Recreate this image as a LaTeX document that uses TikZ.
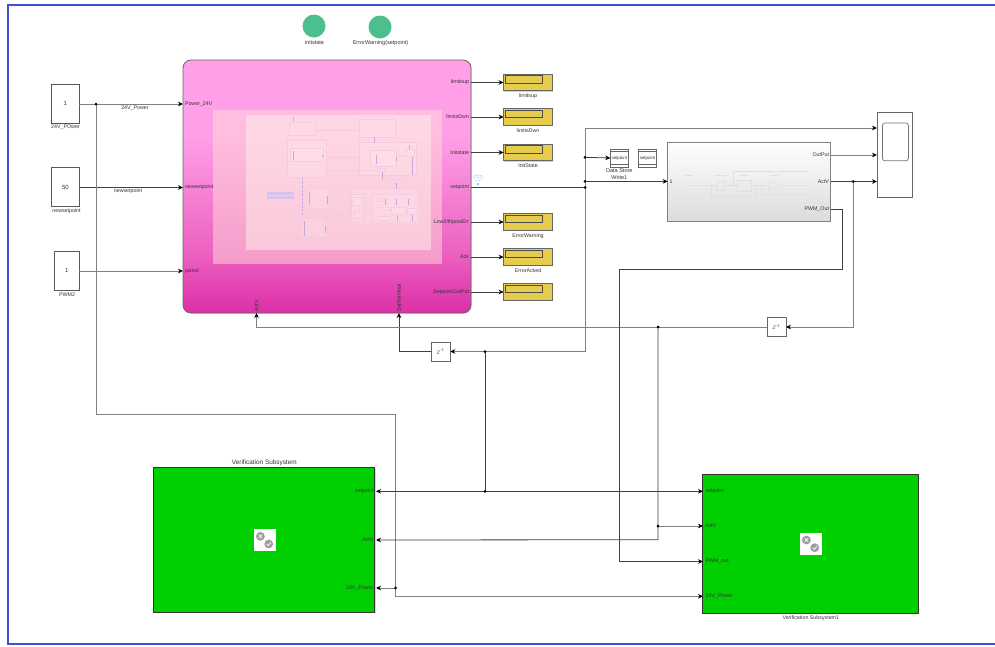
\documentclass[tikz,border=0pt]{standalone}
\usepackage{fontspec}
\setmainfont{Liberation Sans}
\usepackage{xcolor}
\usetikzlibrary{
  arrows.meta,
  positioning,
  shadows,
}
\definecolor{framecol}{HTML}{3F4FD6}
\definecolor{dispcol}{HTML}{E6CC4E}
\definecolor{greenblk}{HTML}{00D000}
\definecolor{lampcol}{HTML}{4DBF8F}
\definecolor{faintline}{HTML}{F6CCDC}
\definecolor{faintmark}{HTML}{C8A8E0}
\definecolor{pinklo}{HTML}{DC2FA8}
\definecolor{pinkmid}{HTML}{EC62C0}
\definecolor{pinkhi}{HTML}{FF9FE8}
\definecolor{panelA}{HTML}{FFDCD8}
\definecolor{panelB}{HTML}{FFF0E8}
\pgfdeclareverticalshading{pinkfade}{100bp}{
  color(0bp)=(pinklo); color(25bp)=(pinklo); color(37bp)=(pinkmid);
  color(60bp)=(pinkhi); color(100bp)=(pinkhi)}
\newcommand{\lblsize}{\fontsize{5.3}{6.3}\selectfont}

\begin{document}
\begin{tikzpicture}[
  x=1pt, y=-1pt,
  font=\lblsize,
  every node/.style={align=center, inner sep=0pt, outer sep=0pt, text=black!80},
  sigline/.style={-{Stealth[length=5pt,width=4.6pt,black]}, black!75, line width=0.8pt},
  sigplain/.style={black!75, line width=0.8pt},
  siggray/.style={-{Stealth[length=5pt,width=4.6pt,black]}, black!50, line width=1pt},
  sigdot/.style={circle, fill=black, minimum size=3pt},
  constblock/.style={draw=black!65, fill=white, line width=0.7pt, minimum width=27.3pt,
    font=\fontsize{6}{7}\selectfont,
    drop shadow={shadow xshift=.7pt, shadow yshift=-.7pt, opacity=.35}},
  dispblock/.style={draw=black!60, fill=dispcol, line width=0.8pt, minimum width=48.8pt, minimum height=16.7pt,
    drop shadow={shadow xshift=.7pt, shadow yshift=-.7pt, opacity=.35}},
  delayblock/.style={draw=black!60, fill=white, line width=0.6pt, minimum width=19pt, minimum height=19pt,
    font=\fontsize{6.5}{7}\selectfont, text=black!60,
    drop shadow={shadow xshift=.7pt, shadow yshift=-.7pt, opacity=.35}},
  storeblock/.style={draw=black!60, fill=white, line width=0.9pt, minimum width=18pt, minimum height=18pt,
    font=\fontsize{4.4}{5}\selectfont},
  verifblock/.style={draw=black!80, fill=greenblk, line width=1pt,
    drop shadow={shadow xshift=.6pt, shadow yshift=-.6pt, opacity=.3}},
  lamp/.style={circle, fill=lampcol, minimum size=23pt},
  faintbox/.style={draw=faintline, fill=white, fill opacity=.12, line width=0.5pt},
]
\useasboundingbox (0,0) rectangle (995,646);
\fill[white] (0,0) rectangle (995,646);

%% Frame
\draw[framecol, line width=2.2pt] (995,5) -- (8,5) -- (8,644) -- (995,644);

%% Lamps
\node[lamp] (lampInit) at (314,26) {};
\node[lamp] (lampErr) at (380,27) {};
\node[font=\fontsize{5.5}{6}\selectfont] (lblInit) at (314.5,43) {initstate};
\node[font=\fontsize{5.5}{6}\selectfont] (lblErr) at (380.5,43) {ErrorWarning(setpoint)};

%% Controller block
\node[draw=black!60, line width=0.8pt, rounded corners=8pt, shading=pinkfade, minimum width=288pt, minimum height=253pt,
  drop shadow={shadow xshift=.6pt, shadow yshift=-.6pt, opacity=.35}] (ctrl) at (327,186.5) {};
\fill[panelA, opacity=.5] (213,110) rectangle (442,264);
\fill[panelB, opacity=.5] (245.5,115) rectangle (431,250);

%% Faint content of the controller
\foreach \xa/\ya/\xb/\yb in {
  289.7/122.7/315.3/135.7, 359.7/119.3/395.3/137.3, 287.3/140.7/326/177.7,
  290.7/148.7/323.3/161, 359.7/142.7/416.3/175.3, 370.7/150.3/396.7/166,
  406.3/149.3/414.3/156.3, 377.7/168/384.7/171.7, 306.3/188.7/329.3/208.3,
  301/218.3/326.7/237.3, 350/188.7/420.3/225, 351.3/194.3/364.7/222.3,
  353.7/197.7/362.7/205.7, 354.3/211/362.7/218.7, 372.7/194.3/418.3/222.3,
  377/198/382/201, 381/207/389/210, 391/207/405/214, 407/208/416/214, 378/216/389/220}
  \draw[faintbox] (\xa,\ya) rectangle (\xb,\yb);
\foreach \xa/\ya/\xb/\yb in {
  315.3/130/359.7/130, 326/157/359.7/157, 326/170/377.7/170, 396.7/155/406.3/155,
  329.3/213.7/350/213.7, 302.7/213.7/350/213.7, 378/179/411/179}
  \draw[faintline, line width=0.4pt] (\xa,\ya) -- (\xb,\yb);
\foreach \xa/\ya/\xb/\yb in {
  293.3/116.7/293.3/121, 293.3/151/293.3/160, 322.5/155/322.5/157, 376.7/155/376.7/164,
  396/157/396/161, 374/137.3/374/142.7, 409/145/409/149, 412/157/412/175, 382/172/382/179,
  396.5/183/396.5/188.7, 309/192/309/205, 327/196/327/204, 304/221/304/236, 325/226/325/233,
  385/199/385/205, 396.5/199/396.5/205, 408/199/408/205, 397/215/397/221, 412/215/412/221}
  \draw[faintmark, line width=0.5pt] (\xa,\ya) -- (\xb,\yb);
\draw[faintmark, line width=0.6pt, densely dotted] (302.7,178.3) -- (302.7,213.7);
\fill[faintmark!70!white] (267.3,192.3) rectangle (293.7,194.7);
\fill[faintmark!70!white] (267.3,196.3) rectangle (293.7,198.7);

%% Controller ports
\foreach \nm/\yy/\txt in {Power/104/Power\_24V, Set/187.5/newsetpoint, Pwm/271/pwm2}{
  \coordinate (in\nm) at (183,\yy);
  \node[right=2pt of in\nm] (lblIn\nm) {\txt};
}
\foreach \nm/\yy/\txt in {Up/82.5/limitsup, Dwn/117/limitsDwn, Init/152.5/Initstate, Sp/187.5/setpoint,
  Low/222/Low24hpowErr, Ack/257/Ack, Out/292/SetpointOutPut}{
  \coordinate (out\nm) at (471,\yy);
  \node[left=2pt of out\nm] (lblOut\nm) {\txt};
}
\coordinate (inAct) at (256.5,313);
\coordinate (inVal) at (399,313);
\node[rotate=90, anchor=west] (lblAct) at (256.5,311.5) {ActV};
\node[rotate=90, anchor=west] (lblVal) at (399,311.5) {SetPointVal};

%% Wifi mark
\fill[blue!45!cyan!60!white] (478,184) circle (1.2pt);
\draw[blue!45!cyan!35!white, line width=0.6pt] (475,181) .. controls (477,179.5) and (479,179.5) .. (481,181);
\draw[blue!45!cyan!35!white, line width=0.6pt] (473.5,178.5) .. controls (476.5,176.5) and (479.5,176.5) .. (482.5,178.5);
\draw[blue!45!cyan!35!white, line width=0.6pt] (473,176.5) .. controls (476,174.5) and (480,174.5) .. (483,176.5);

%% Sources
\node[constblock, minimum height=39pt] (srcPower) at (65.4,103.8) {1};
\node[constblock, minimum height=39pt] (srcSet) at (65.4,187.2) {50};
\node[constblock, minimum width=24.7pt, minimum height=39pt] (srcPwm) at (66.7,270.7) {1};
\node (lblSrcPower) at (65.5,127.5) {24V\_POwer};
\node (lblSrcSet) at (66.5,211) {newsetpoint};
\node (lblSrcPwm) at (67,294.5) {PWM2};
\node (lblWirePower) at (135,108) {24V\_Power};
\node (lblWireSet) at (128,191.5) {newsetpoint};

%% Displays
\foreach \nm/\yy/\txt in {Up/82.5/limitsup, Dwn/117/limitsDwn, Init/152.5/InitState,
  Low/222/ErrorWarning, Ack/257/ErrorAcked, Out/292/{}}{
  \node[dispblock] (disp\nm) at (528,\yy) {};
  \draw[black!70, line width=0.9pt] (505.5,\yy-6.8) rectangle (542.5,\yy+0.8);
  \node[below=3pt of disp\nm] (lblDisp\nm) {\txt};
}
\foreach \nm in {Up,Dwn,Init,Low,Ack,Out}
  \draw[sigline] (out\nm) -- (disp\nm.west);

%% Data stores
\node[storeblock] (storeWrite) at (619.3,158) {setpoint};
\node[storeblock] (storeRead) at (647.5,158) {setpoint};
\foreach \nm in {storeWrite,storeRead}{
  \draw[black!60, line width=0.9pt] ([yshift=-2.2pt]\nm.north west) -- ([yshift=-2.2pt]\nm.north east);
  \draw[black!60, line width=0.9pt] ([yshift=2.2pt]\nm.south west) -- ([yshift=2.2pt]\nm.south east);
}
\node[font=\fontsize{5.5}{6.4}\selectfont, below=2pt of storeWrite] (lblStore) {Data Store\\Write1};

%% Plant block
\node[draw=black!50, line width=1pt, top color=white, bottom color=black!14, minimum width=163pt, minimum height=79pt,
  drop shadow={shadow xshift=.7pt, shadow yshift=-.7pt, opacity=.35}] (plant) at (749.2,181.5) {};
\foreach \xa/\ya/\xb/\yb in {
  686.7/185/717.7/185, 724/185/737.7/185, 751.7/185/768/185, 782.7/185/808/185,
  733.3/171.7/808/171.7, 733.3/171.7/733.3/185, 711/185/711/196, 711/196/755.7/196, 755.7/196/755.7/185,
  761/185/761/194.3, 761/194.3/808/194.3,
  685/175/692/175, 715/175/727/175, 739/175/749/175, 770/175/778/175}
  \draw[black!12, line width=0.5pt] (\xa,\ya) -- (\xb,\yb);
\draw[black!12, line width=0.5pt] (717.7,181.7) rectangle (724,190);
\draw[black!12, line width=0.5pt] (737.7,180) rectangle (751.7,191.7);
\draw[black!12, line width=0.5pt] (768.3,181) -- (768.3,190) -- (782.7,185.3) -- cycle;
\node[right=2pt of plant.west] (lblPlantIn) {1};
\coordinate (plantOut) at (831,155);
\coordinate (plantAct) at (831,181.5);
\coordinate (plantPwm) at (831,209);
\node[left=2pt of plantOut] (lblPlantOut) {OutPut};
\node[left=2pt of plantAct] (lblPlantAct) {ActV};
\node[left=2pt of plantPwm] (lblPlantPwm) {PWM\_Out};

%% Scope
\node[draw=black!60, fill=white, line width=0.7pt, minimum width=35pt, minimum height=85.7pt,
  drop shadow={shadow xshift=.5pt, shadow yshift=-.5pt, opacity=.3}] (scope) at (894.5,154.9) {};
\node[draw=black!55, line width=0.7pt, rounded corners=2.5pt, minimum width=26pt, minimum height=37.7pt] (scopeScreen) at (895.4,141.9) {};
\coordinate (scopeTop) at (877,128);

%% Delays
\node[delayblock] (delayAct) at (776.5,327) {\textit{z}\textsuperscript{-1}};
\node[delayblock] (delaySet) at (440.8,351.5) {\textit{z}\textsuperscript{-1}};

%% Verification blocks
\node[verifblock, minimum width=221.3pt, minimum height=144.7pt] (verifA) at (264.3,539.7) {};
\node[verifblock, minimum width=215.7pt, minimum height=139pt] (verifB) at (810.8,543.8) {};
\node[above=1.5pt of verifA, font=\fontsize{6.4}{7}\selectfont] (lblVerifA) {Verification Subsystem};
\node[below=2pt of verifB] (lblVerifB) {Verification Subsystem1};
\foreach \nm/\xx/\yy in {A/264.7/540, B/810.7/543.7}{
  \node[fill=white, minimum size=22pt] (icon\nm) at (\xx,\yy) {};
  \fill[black!38] (\xx-4.3,\yy-3.7) circle (4.4pt);
  \fill[black!38] (\xx+4,\yy+4) circle (4.4pt);
  \draw[white, line width=0.7pt] (\xx-6,\yy-5.4) -- (\xx-2.6,\yy-2) (\xx-6,\yy-2) -- (\xx-2.6,\yy-5.4);
  \draw[white, line width=0.7pt] (\xx+2,\yy+4) -- (\xx+3.6,\yy+5.8) -- (\xx+6.2,\yy+2.4);
}
\coordinate (vaSet) at (376,491.3);
\coordinate (vaAct) at (376,540);
\coordinate (vaPwr) at (376,588);
\coordinate (vbSet) at (703,491.3);
\coordinate (vbAct) at (703,526);
\coordinate (vbPwm) at (703,561.5);
\coordinate (vbPwr) at (703,596.3);
\node[left=2.5pt of vaSet] (lblVaSet) {setpoint};
\node[left=2.5pt of vaAct] (lblVaAct) {ActV};
\node[left=2.5pt of vaPwr] (lblVaPwr) {24V\_Power};
\node[right=2.5pt of vbSet] (lblVbSet) {setpoint};
\node[right=2pt of vbAct] (lblVbAct) {ActV};
\node[right=2.5pt of vbPwm] (lblVbPwm) {PWM\_out};
\node[right=2.5pt of vbPwr] (lblVbPwr) {24V\_Power};

%% Branch points
\foreach \nm/\xx/\yy in {PowerA/96/104, PowerB/395.7/588, SpA/585/187.5, SpB/585/181.4, SpC/585/157.3,
  SpD/485/351.5, SpE/485/491.3, ActA/853/181.5, ActB/658/327, ActC/658/526}
  \coordinate (dot\nm) at (\xx,\yy);

%% Wires
\draw[siggray] (srcPower.east |- inPower) -- (inPower);
\draw[sigline] (srcSet.east |- inSet) -- (inSet);
\draw[siggray] (srcPwm.east |- inPwm) -- (inPwm);
\draw[siggray] (dotPowerA) -- (96,414) -- (395.7,414) -- (395.7,596.3) -- (vbPwr);
\draw[siggray] (dotPowerB) -- (vaPwr);

\draw[sigplain] (outSp) -- (dotSpA);
\draw[sigline] (dotSpC) -- (storeWrite.west);
\draw[sigline] (dotSpB) -- (plant.west |- dotSpB);
\draw[siggray] (585,351.5) -- (585,128) -- (scopeTop);
\draw[siggray] (585,351.5) -- (delaySet.east);
\draw[sigline] (delaySet.west) -- (399,351.5) -- (inVal);
\draw[sigplain] (dotSpD) -- (dotSpE);
\draw[sigline] (dotSpE) -- (vaSet);
\draw[sigline] (dotSpE) -- (vbSet);

\draw[siggray] (plantOut) -- (scope.west |- plantOut);
\draw[sigline] (plantAct) -- (scope.west |- plantAct);
\draw[siggray] (dotActA) -- (853,327) -- (delayAct.east);
\draw[siggray] (delayAct.west) -- (256.5,327) -- (inAct);
\draw[sigline] (dotActB) -- (dotActC) -- (658,539.7) -- (vaAct);
\draw[siggray] (dotActC) -- (vbAct);

\draw[sigline] (plantPwm) -- (842.5,209) -- (842.5,269.3) -- (619,269.3) -- (619,561.5) -- (vbPwm);

%% Branch dots
\foreach \nm in {PowerA,PowerB,SpA,SpB,SpC,SpD,SpE,ActA,ActB,ActC}
  \node[sigdot] (mark\nm) at (dot\nm) {};

\end{tikzpicture}
\end{document}
